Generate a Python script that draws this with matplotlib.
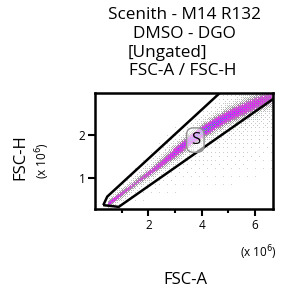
import numpy as np
import matplotlib
matplotlib.use("Agg")
import matplotlib.pyplot as plt
from matplotlib.colors import LinearSegmentedColormap
from matplotlib.patches import Polygon

plt.rcParams['font.family'] = ['Open Sans', 'DejaVu Sans']

# ---- data (FSC-A, FSC-H in units of 1e6) ----
title_lines = ["Scenith - M14 R132", "DMSO - DGO", "[Ungated]", "FSC-A / FSC-H"]
x_label = "FSC-A"
y_label = "FSC-H"
x_major = [2, 4, 6]
x_minor = [1, 3, 5]
y_major = [1, 2]
x_limits = [0.0, 6.67]
y_limits = [0.27, 2.98]

# population ridge along FSC-A
ridge_x = [0.45, 0.5, 1.0, 1.5, 2.0, 2.5, 3.0, 3.5, 4.0, 4.5, 5.0, 5.5, 6.0, 6.5, 6.7]
ridge_y = [0.36, 0.38, 0.62, 0.86, 1.09, 1.33, 1.58, 1.82, 2.04, 2.24, 2.42, 2.57, 2.71, 2.84, 2.89]
ridge_sd = [0.035, 0.045, 0.05, 0.055, 0.06, 0.07, 0.08, 0.085, 0.09, 0.095, 0.10, 0.11, 0.12, 0.12, 0.12]
ridge_peak = [0.0, 0.58, 0.42, 0.32, 0.42, 0.50, 0.58, 0.66, 0.82, 0.74, 0.62, 0.54, 0.47, 0.40, 0.35]
halo_level = [0.0, 0.15, 0.15, 0.14, 0.14, 0.14, 0.15, 0.16, 0.16, 0.16, 0.16, 0.16, 0.16, 0.15, 0.14]
halo_sd = [0.08, 0.10, 0.12, 0.13, 0.15, 0.17, 0.19, 0.20, 0.21, 0.22, 0.24, 0.25, 0.26, 0.27, 0.27]
scatter_level = [0.0, 0.015, 0.015, 0.015, 0.015, 0.018, 0.02, 0.022, 0.025, 0.028, 0.03, 0.03, 0.03, 0.03, 0.03]
scatter_sd = [0.1, 0.15, 0.2, 0.25, 0.3, 0.35, 0.4, 0.45, 0.5, 0.55, 0.6, 0.6, 0.6, 0.6, 0.6]
scatter_shift = [0.0, 0.0, -0.05, -0.1, -0.15, -0.2, -0.25, -0.3, -0.35, -0.4, -0.45, -0.5, -0.5, -0.5, -0.5]

# singlet gate polygon "S"
gate_x = [0.31, 0.46, 7.5, 7.5, 0.89]
gate_y = [0.36, 0.56, 4.6, 3.2, 0.32]
gate_name = "S"
gate_label_pos = (3.76, 1.88)

# ---- figure ----
W, H = 284, 295
fig = plt.figure(figsize=(W / 100, H / 100), dpi=100)
ax = fig.add_axes([95 / W, 1 - 209 / H, 178 / W, 116 / H])

# density image built from the ridge description
nx, ny = 178, 116
gx = np.linspace(x_limits[0], x_limits[1], nx)
gy = np.linspace(y_limits[0], y_limits[1], ny)
XX, YY = np.meshgrid(gx, gy)
ry = np.interp(XX, ridge_x, ridge_y)
rs = np.interp(XX, ridge_x, ridge_sd)
rp = np.interp(XX, ridge_x, ridge_peak, left=0, right=ridge_peak[-1])
hl = np.interp(XX, ridge_x, halo_level, left=0, right=halo_level[-1])
hs = np.interp(XX, ridge_x, halo_sd)
sl = np.interp(XX, ridge_x, scatter_level, left=0, right=scatter_level[-1])
ss = np.interp(XX, ridge_x, scatter_sd)
sh = np.interp(XX, ridge_x, scatter_shift)
dens = (rp * np.exp(-0.5 * ((YY - ry) / rs) ** 2)
        + hl * np.exp(-0.5 * ((YY - ry) / hs) ** 2)
        + sl * np.exp(-0.5 * ((YY - ry - sh) / ss) ** 2))

# ordered (Bayer 8x8) dithering so the plot reads as individual events
b2 = np.array([[0, 2], [3, 1]])
b4 = np.block([[4 * b2, 4 * b2 + 2], [4 * b2 + 3, 4 * b2 + 1]])
b8 = np.block([[4 * b4, 4 * b4 + 2], [4 * b4 + 3, 4 * b4 + 1]])
bayer = (b8 + 0.5) / 64.0
thr = np.tile(bayer, (ny // 8 + 1, nx // 8 + 1))[:ny, :nx]
thr2 = np.tile(bayer.T[::-1], (ny // 8 + 1, nx // 8 + 1))[:ny, :nx]

present = dens * 1.9 > thr
value = dens * (0.45 + 0.7 * thr2)
img = np.where(present, value, np.nan)

cmap = LinearSegmentedColormap.from_list(
    "flow",
    [(0.0, "#d0d0d0"), (0.28, "#a4a4a4"), (0.40, "#b070b8"), (0.50, "#ee22ee"),
     (0.76, "#c030ff"), (0.86, "#5a5cff"), (0.94, "#3a8cff"), (1.0, "#30e040")])
ax.imshow(np.ma.masked_invalid(img), extent=[x_limits[0], x_limits[1], y_limits[0], y_limits[1]],
          origin="lower", aspect="auto", cmap=cmap, vmin=0.0, vmax=1.0, interpolation="nearest")

gate = Polygon(np.column_stack([gate_x, gate_y]), closed=True, fill=False,
               edgecolor="black", linewidth=1.8, joinstyle="miter")
ax.add_patch(gate)
ax.text(gate_label_pos[0], gate_label_pos[1], gate_name, ha="center", va="center", fontsize=12,
        bbox=dict(boxstyle="round,pad=0.25,rounding_size=0.4", facecolor=(1, 1, 1, 0.55),
                  edgecolor="#909090", linewidth=1))

ax.set_xlim(x_limits)
ax.set_ylim(y_limits)
ax.set_xticks(x_major)
ax.set_xticks(x_minor, minor=True)
ax.set_yticks(y_major)
ax.set_xticklabels([str(v) for v in x_major])
ax.set_yticklabels([str(v) for v in y_major])
ax.tick_params(axis="both", which="major", length=5, width=1.5, labelsize=8.5, pad=2)
ax.tick_params(axis="x", which="minor", length=3, width=1.5)
for s in ax.spines.values():
    s.set_linewidth(1.8)

# titles
title_x = [184, 184, 167, 183]
title_y = [19, 38, 57, 75]
for t, xx, yy in zip(title_lines, title_x, title_y):
    fig.text(xx / W, 1 - yy / H, t, ha="center", va="baseline", fontsize=12.3)

fig.text(185 / W, 1 - 280 / H, x_label, ha="center", va="center", fontsize=12)
fig.text(258 / W, 1 - 253 / H, r"(x 10$^{6}$)", ha="center", va="center", fontsize=8.5)
fig.text(20 / W, 1 - 157 / H, y_label, ha="center", va="center", rotation=90, fontsize=12)
fig.text(43 / W, 1 - 161 / H, r"(x 10$^{6}$)", ha="center", va="center", rotation=90, fontsize=8.5)

fig.savefig("out.png", dpi=100)
